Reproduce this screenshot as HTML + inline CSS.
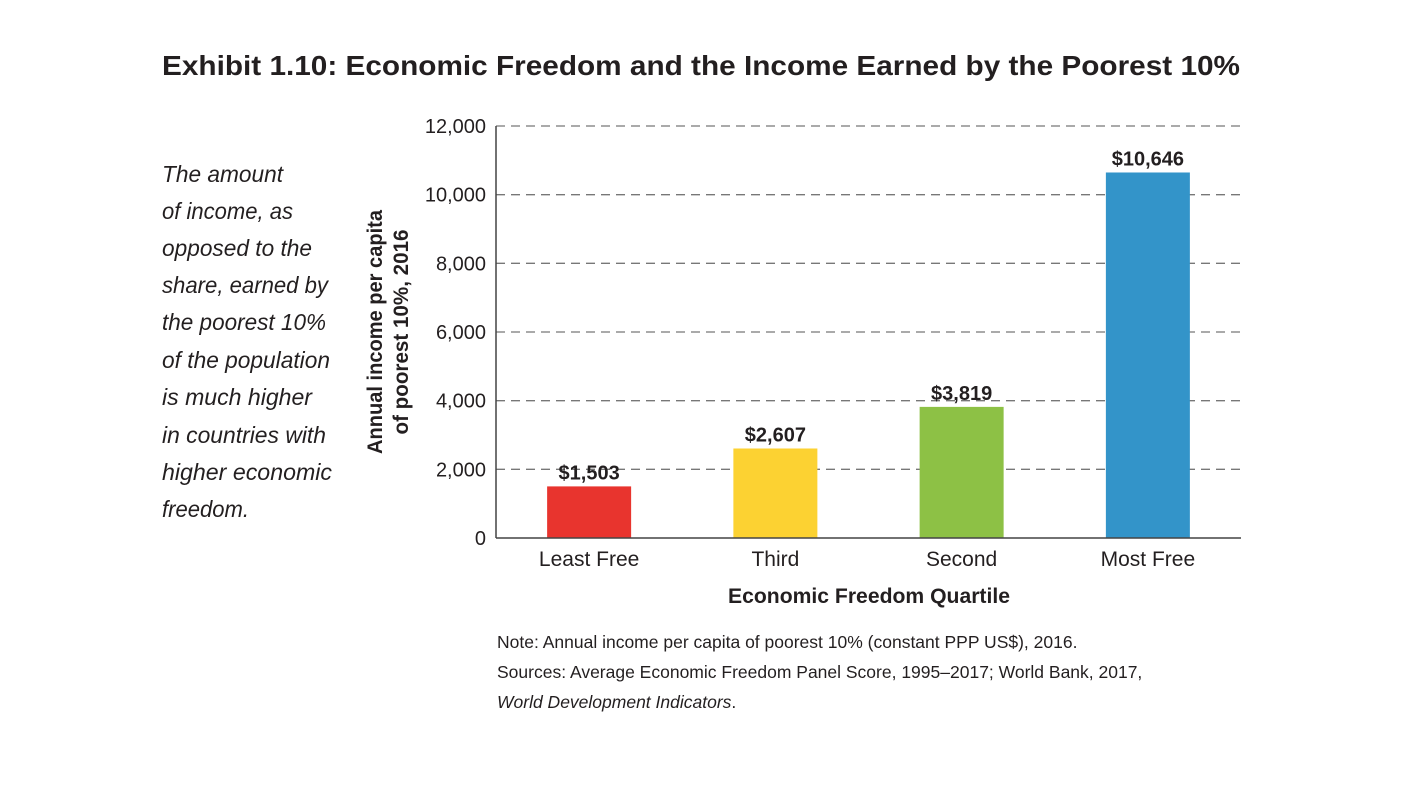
<!DOCTYPE html>
<html><head><meta charset="utf-8"><style>
body{margin:0;background:#fff;width:1426px;height:802px;overflow:hidden;font-family:"Liberation Sans",sans-serif;}
</style></head><body>
<svg width="1426" height="802" id="svg">
<text x="162" y="75" font-size="28" font-weight="bold" fill="#231f20" textLength="1078" lengthAdjust="spacingAndGlyphs">Exhibit 1.10: Economic Freedom and the Income Earned by the Poorest 10%</text>
<g font-size="23" font-style="italic" fill="#231f20">
<text x="162" y="182" textLength="121" lengthAdjust="spacingAndGlyphs">The amount</text>
<text x="162" y="219" textLength="131" lengthAdjust="spacingAndGlyphs">of income, as</text>
<text x="162" y="256" textLength="150" lengthAdjust="spacingAndGlyphs">opposed to the</text>
<text x="162" y="293" textLength="166" lengthAdjust="spacingAndGlyphs">share, earned by</text>
<text x="162" y="330" textLength="164" lengthAdjust="spacingAndGlyphs">the poorest 10%</text>
<text x="162" y="368" textLength="168" lengthAdjust="spacingAndGlyphs">of the population</text>
<text x="162" y="405" textLength="150" lengthAdjust="spacingAndGlyphs">is much higher</text>
<text x="162" y="443" textLength="164" lengthAdjust="spacingAndGlyphs">in countries with</text>
<text x="162" y="480" textLength="170" lengthAdjust="spacingAndGlyphs">higher economic</text>
<text x="162" y="517" textLength="87" lengthAdjust="spacingAndGlyphs">freedom.</text>
</g>
<g id="grid"></g><g id="bars"></g><g id="axes"></g>
<text transform="translate(382,332) rotate(-90)" text-anchor="middle" font-size="21" font-weight="bold" fill="#231f20"><tspan x="0" dy="0" textLength="244" lengthAdjust="spacingAndGlyphs">Annual income per capita</tspan><tspan x="0" dy="26" textLength="205" lengthAdjust="spacingAndGlyphs">of poorest 10%, 2016</tspan></text>
<text x="869" y="603" text-anchor="middle" font-size="21" font-weight="bold" fill="#231f20" textLength="282" lengthAdjust="spacingAndGlyphs">Economic Freedom Quartile</text>
<g font-size="17.5" fill="#231f20">
<text x="497" y="648">Note: Annual income per capita of poorest 10% (constant PPP US$), 2016.</text>
<text x="497" y="678">Sources: Average Economic Freedom Panel Score, 1995–2017; World Bank, 2017,</text>
<text x="497" y="708" font-style="italic">World Development Indicators<tspan font-style="normal">.</tspan></text>
</g>
</svg>
<script>
const categories=["Least Free","Third","Second","Most Free"];
const values=[1503,2607,3819,10646];
const valueLabels=["$1,503","$2,607","$3,819","$10,646"];
const colors=["#e8342e","#fcd232","#8dc145","#3394c9"];
const yTicks=[0,2000,4000,6000,8000,10000,12000];
const yTickLabels=["0","2,000","4,000","6,000","8,000","10,000","12,000"];
const NS="http://www.w3.org/2000/svg";
const x0=496,x1=1241,yTop=126,yBot=538,yMax=12000;
const y=v=>yBot-(v/yMax)*(yBot-yTop);
const band=(x1-x0)/categories.length;
const xc=i=>x0+band*(i+0.5);
function mk(t,a,p){const e=document.createElementNS(NS,t);for(const k in a)e.setAttribute(k,a[k]);p.appendChild(e);return e;}
const grid=document.getElementById('grid'),bars=document.getElementById('bars'),axes=document.getElementById('axes');
yTicks.forEach((v,i)=>{
 if(v>0){const l=mk('line',{x1:x0,x2:x1,y1:y(v),y2:y(v),stroke:'#777','stroke-width':1.3,'stroke-dasharray':'9,6'},grid);
 
 }
 const t=mk('text',{x:x0-10,y:y(v)+7,'text-anchor':'end','font-size':20,fill:'#231f20'},axes);
 t.textContent=yTickLabels[i];
 
 
});
categories.forEach((c,i)=>{
 const r=mk('rect',{x:xc(i)-42,width:84,y:y(values[i]),height:yBot-y(values[i]),fill:colors[i]},bars);
 
 
 const t=mk('text',{x:xc(i),y:y(values[i])-7,'text-anchor':'middle','font-size':20,'font-weight':'bold',fill:'#231f20'},bars);
 t.textContent=valueLabels[i];
 
 
 const xl=mk('text',{x:xc(i),y:566,'text-anchor':'middle','font-size':21,fill:'#231f20'},axes);
 xl.textContent=c;
 
 
});
const ya=mk('line',{x1:x0,x2:x0,y1:yTop,y2:yBot,stroke:'#444','stroke-width':1.5},axes);


const xa=mk('line',{x1:x0,x2:x1,y1:yBot,y2:yBot,stroke:'#444','stroke-width':1.5},axes);


</script>
</body></html>
